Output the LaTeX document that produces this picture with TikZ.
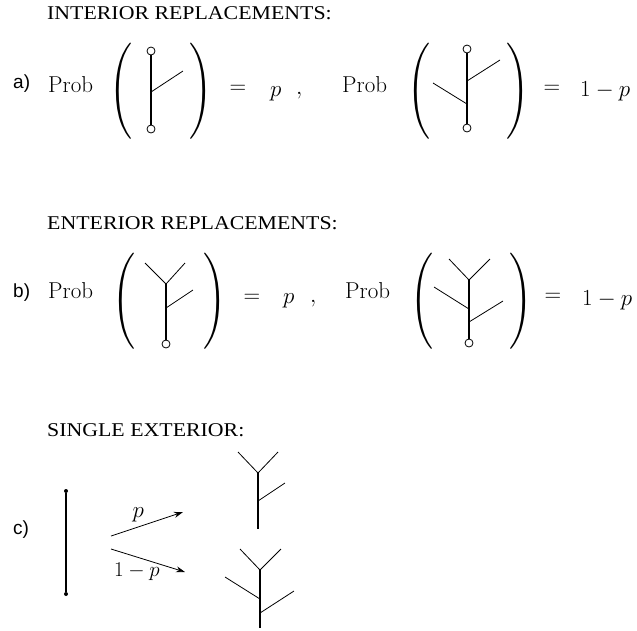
\documentclass[tikz,border=0pt]{standalone}
\usepackage{fix-cm}
\usepackage{amsmath,graphicx}
\usepackage{fontspec}
\usetikzlibrary{arrows.meta,positioning,calc}
\newfontfamily\headfont[FakeStretch=1.12]{Liberation Serif}
\newfontfamily\tagfont{Liberation Sans}

\tikzset{
  head/.style={anchor=base west,inner sep=0pt,font=\headfont\fontsize{19.5}{22}\selectfont},
  tag/.style={anchor=base west,inner sep=0pt,font=\tagfont\fontsize{19}{22}\selectfont},
  eq/.style={inner sep=0pt,font=\fontsize{23}{27}\selectfont},
  paren/.style={inner sep=0pt},
  trunk/.style={line width=1.7pt},
  twig/.style={line width=0.8pt},
  knob/.style={circle,draw,line width=0.8pt,fill=white,inner sep=0pt,minimum size=8pt},
  dot/.style={circle,fill,inner sep=0pt,minimum size=4pt},
  move/.style={line width=0.8pt,-{Stealth[length=9pt,width=6pt]}}
}
\newcommand{\bigL}{\resizebox*{23pt}{96pt}{$\Biggl($}}
\newcommand{\bigR}{\resizebox*{23pt}{96pt}{$\Biggr)$}}

\begin{document}
\begin{tikzpicture}[x=1pt,y=-1pt]
  \useasboundingbox (0,0) rectangle (637,630);

  % a) interior replacements
  \node[head] (hA) at (47,19) {INTERIOR REPLACEMENTS:};
  \node[tag] (tA) at (13,88) {a)};
  \node[eq,anchor=base west] (probA1) at (48,92) {$\mathrm{Prob}$};
  \node[paren] (lA1) at (121,91) {\bigL};
  \node[paren] (rA1) at (201,91) {\bigR};
  \node[knob] (kA1t) at (151,51) {};
  \node[knob] (kA1b) at (151,129) {};
  \draw[trunk] (kA1t) -- (kA1b);
  \draw[twig] (151,92) -- (183,71);
  \node[eq] (eqA1) at (238,89) {$=$};
  \node[eq,anchor=base west] (valA1) at (270,96) {$p$};
  \node[eq,anchor=base west] (cmA) at (296,94) {$,$};

  \node[eq,anchor=base west] (probA2) at (342,92) {$\mathrm{Prob}$};
  \node[paren] (lA2) at (419,91) {\bigL};
  \node[paren] (rA2) at (518,91) {\bigR};
  \node[knob] (kA2t) at (467,49) {};
  \node[knob] (kA2b) at (467,128) {};
  \draw[trunk] (kA2t) -- (kA2b);
  \draw[twig] (467,81) -- (500,60);
  \draw[twig] (433,83) -- (467,104);
  \node[eq] (eqA2) at (552,89) {$=$};
  \node[eq,anchor=base west] (valA2) at (580,96) {$1-p$};

  % b) enterior replacements
  \node[head] (hB) at (47,229) {ENTERIOR REPLACEMENTS:};
  \node[tag] (tB) at (13,297) {b)};
  \node[eq,anchor=base west] (probB1) at (48,298) {$\mathrm{Prob}$};
  \node[paren] (lB1) at (124,301) {\bigL};
  \node[paren] (rB1) at (215,301) {\bigR};
  \coordinate (yB1) at (166,284);
  \node[knob] (kB1) at (166,344) {};
  \draw[trunk] (yB1) -- (kB1);
  \draw[twig] (145,263) -- (yB1) -- (185,263);
  \draw[twig] (166,308) -- (193,290);
  \node[eq] (eqB1) at (252,298) {$=$};
  \node[eq,anchor=base west] (valB1) at (283,303) {$p$};
  \node[eq,anchor=base west] (cmB) at (310,302) {$,$};

  \node[eq,anchor=base west] (probB2) at (345,298) {$\mathrm{Prob}$};
  \node[paren] (lB2) at (422,301) {\bigL};
  \node[paren] (rB2) at (521,301) {\bigR};
  \coordinate (yB2) at (469,280);
  \node[knob] (kB2) at (469,343) {};
  \draw[trunk] (yB2) -- (kB2);
  \draw[twig] (449,259) -- (yB2) -- (490,259);
  \draw[twig] (434,287) -- (469,309);
  \draw[twig] (469,322) -- (503,301);
  \node[eq] (eqB2) at (553,297) {$=$};
  \node[eq,anchor=base west] (valB2) at (582,305) {$1-p$};

  % c) single exterior
  \node[head] (hC) at (47,436) {SINGLE EXTERIOR:};
  \node[tag] (tC) at (13,534) {c)};
  \node[dot] (sTop) at (66,491) {};
  \node[dot] (sBot) at (66,594) {};
  \draw[trunk] (sTop) -- (sBot);

  \coordinate (mA0) at (111,536);
  \coordinate (mA1) at (183,512);
  \coordinate (mB0) at (111,549);
  \coordinate (mB1) at (185,572);
  \draw[move] (mA0) -- node[eq,pos=0.38,above=5pt] (lblP) {$p$} (mA1);
  \draw[move] (mB0) -- node[eq,font=\fontsize{21}{24}\selectfont,pos=0.35,below=6pt] (lblQ) {$1-p$} (mB1);

  \coordinate (yC1) at (258,473);
  \coordinate (bC1) at (258,529);
  \draw[trunk] (yC1) -- (bC1);
  \draw[twig] (238,452) -- (yC1) -- (278,452);
  \draw[twig] (258,501) -- (285,483);

  \coordinate (yC2) at (260,570);
  \coordinate (bC2) at (260,628);
  \draw[trunk] (yC2) -- (bC2);
  \draw[twig] (240,549) -- (yC2) -- (281,549);
  \draw[twig] (225,577) -- (260,599);
  \draw[twig] (260,613) -- (294,591);
\end{tikzpicture}
\end{document}
